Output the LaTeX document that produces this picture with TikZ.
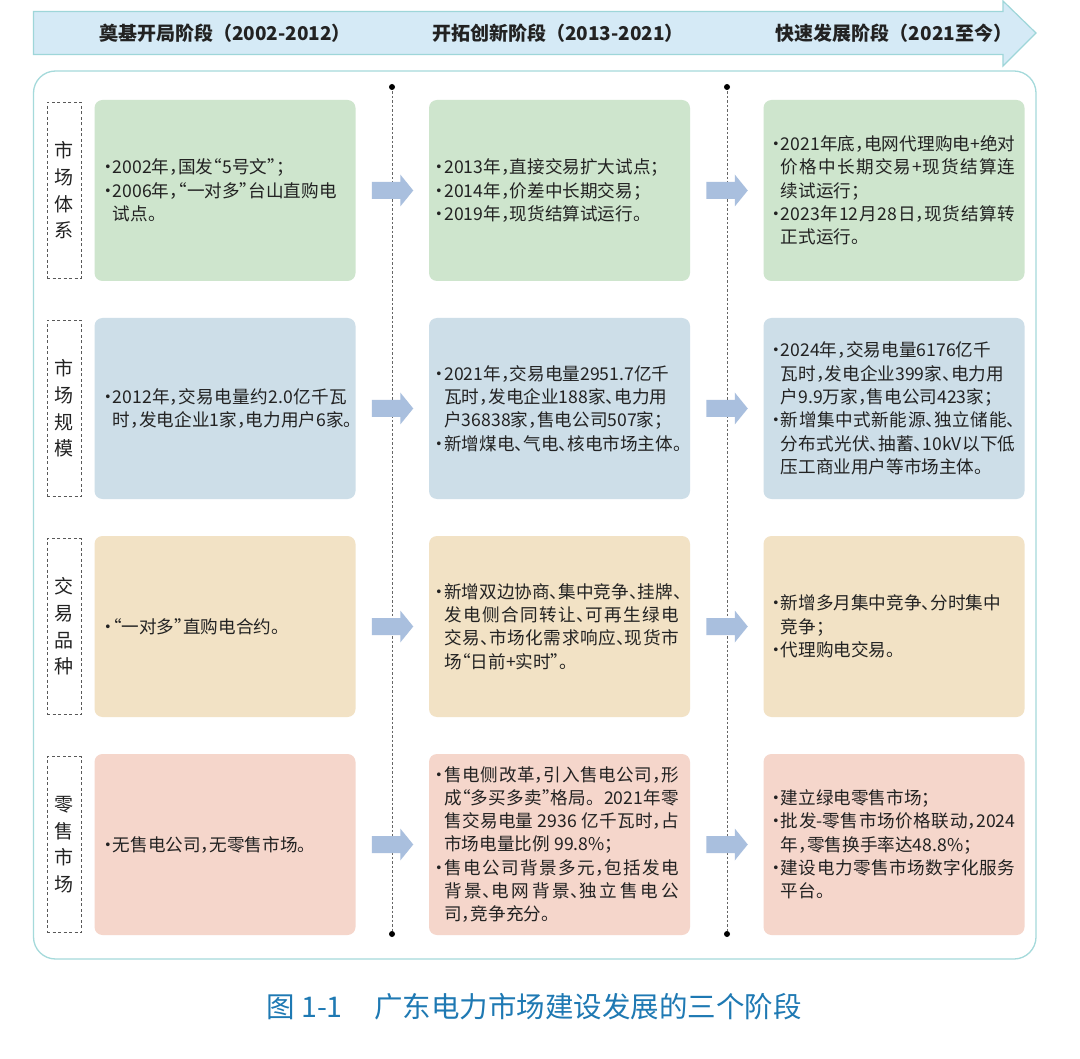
\documentclass[tikz,border=0pt]{standalone}
\usepackage{fontspec}
\setmainfont{Noto Sans CJK SC}
\usetikzlibrary{calc}
\XeTeXlinebreaklocale "zh"
\XeTeXlinebreakskip=0pt plus 4pt
\definecolor{bannerfill}{HTML}{D5EAF6}
\definecolor{bannerline}{HTML}{9ED6D9}
\definecolor{frameline}{HTML}{A5DADB}
\definecolor{cgreen}{HTML}{CEE5CD}
\definecolor{cblue}{HTML}{CDDEE8}
\definecolor{ctan}{HTML}{F2E2C5}
\definecolor{cpink}{HTML}{F5D6CB}
\definecolor{arrowc}{HTML}{A9BFDE}
\definecolor{capblue}{HTML}{1E79B3}
\definecolor{txtc}{HTML}{222222}
\newlength\cw \setlength\cw{242pt}
\newcommand\Jline[1]{\hbox{\parbox[t]{\cw}{\tolerance=10000\parfillskip=0pt\relax #1\par}}}
\newcommand\Lline[1]{\hbox{#1}}
\newcommand\bu{\makebox[.42em][l]{\hspace{-.36em}·}}
\newcommand\bi{\hspace*{.42em}}
\newcommand\cma{\makebox[.5em][l]{，}}
\newcommand\smc{\makebox[.5em][l]{；}}
\newcommand\dun{\makebox[.5em][l]{、}}
\newcommand\oq{\makebox[.5em][r]{“}}
\newcommand\cq{\makebox[.5em][l]{”}}
\newcommand\fsp{\hspace*{.25em}}
\tikzset{barrow/.pic={\fill[arrowc] (-20.5,-8.5) -- (8,-8.5) -- (8,-16) -- (21,0) -- (8,16) -- (8,8.5) -- (-20.5,8.5) -- cycle;}}
\begin{document}
\begin{tikzpicture}[x=1pt,y=-1pt,
  body/.style={font=\fontsize{17.6}{23.3}\selectfont, text=txtc, inner sep=0pt, anchor=west},
  cell/.style={rounded corners=8pt, minimum width=261pt, minimum height=181pt, inner sep=0pt},
  rowlab/.style={draw=black!65, dash pattern=on 3pt off 2.5pt, line width=0.9pt, minimum width=34pt, minimum height=176pt, inner sep=0pt, align=center, font=\fontsize{19}{26.7}\selectfont, text=txtc},
  head/.style={font=\fontsize{19}{22}\selectfont\bfseries, text=txtc},
  guide/.style={black!60, line width=1pt, dash pattern=on 2.5pt off 2pt},
]
\useasboundingbox (0,0) rectangle (1080,1059);
\fill[white] (0,0) rectangle (1080,1059);

% banner arrow
\draw[fill=bannerfill, draw=bannerline, line width=1.2pt] (33.5,11.5) -- (1003,11.5) -- (1003,1) -- (1036,33) -- (1003,66) -- (1003,54.5) -- (33.5,54.5) -- cycle;
\node[head] (h1) at (225,33) {奠基开局阶段（2002-2012）};
\node[head] (h2) at (558,33) {开拓创新阶段（2013-2021）};
\node[head] (h3) at (894,33) {快速发展阶段（2021至今）};

% frame
\draw[frameline, line width=1.3pt, rounded corners=22pt] (33.5,71) rectangle (1036,959);

% guide lines
\coordinate (g1t) at (392,87);
\coordinate (g1b) at (392,934);
\coordinate (g2t) at (727,87);
\coordinate (g2b) at (727,934);
\draw[guide] (g1t) -- (g1b);
\draw[guide] (g2t) -- (g2b);
\fill (g1t) circle (3pt);
\fill (g1b) circle (3pt);
\fill (g2t) circle (3pt);
\fill (g2b) circle (3pt);

% row labels
\node[rowlab] (l1) at (64,190.5) {市\\场\\体\\系};
\node[rowlab] (l2) at (64,408.5) {市\\场\\规\\模};
\node[rowlab] (l3) at (64,626.5) {交\\易\\品\\种};
\node[rowlab] (l4) at (64,844.5) {零\\售\\市\\场};

% cells
\node[cell, fill=cgreen] (b11) at (225,190.5) {};
\node[cell, fill=cgreen] (b12) at (559.5,190.5) {};
\node[cell, fill=cgreen] (b13) at (894,190.5) {};
\node[cell, fill=cblue] (b21) at (225,408.5) {};
\node[cell, fill=cblue] (b22) at (559.5,408.5) {};
\node[cell, fill=cblue] (b23) at (894,408.5) {};
\node[cell, fill=ctan] (b31) at (225,626.5) {};
\node[cell, fill=ctan] (b32) at (559.5,626.5) {};
\node[cell, fill=ctan] (b33) at (894,626.5) {};
\node[cell, fill=cpink] (b41) at (225,844.5) {};
\node[cell, fill=cpink] (b42) at (559.5,844.5) {};
\node[cell, fill=cpink] (b43) at (894,844.5) {};

% arrows
\foreach \r in {1,2,3,4}{
  \pic at ($(b\r1.east)!0.5!(b\r2.west)$) {barrow};
  \pic at ($(b\r2.east)!0.5!(b\r3.west)$) {barrow};
}

% texts row 1
\node[body] (t11) at ([xshift=11pt]b11.west) {\vbox{%
\Lline{\bu 2002年\cma 国发\oq 5号文\cq\smc}
\Lline{\bu 2006年\cma \oq 一对多\cq 台山直购电}
\Lline{\bi 试点。}}};
\node[body] (t12) at ([xshift=8pt]b12.west) {\vbox{%
\Lline{\bu 2013年\cma 直接交易扩大试点\smc}
\Lline{\bu 2014年\cma 价差中长期交易\smc}
\Lline{\bu 2019年\cma 现货结算试运行。}}};
\node[body] (t13) at ([xshift=10pt]b13.west) {\vbox{%
\Jline{\bu 2021年底\cma 电网代理购电+绝对}
\Jline{\bi 价格中长期交易+现货结算连}
\Lline{\bi 续试运行\smc}
\Jline{\bu 2023年12月28日\cma 现货结算转}
\Lline{\bi 正式运行。}}};

% texts row 2
\node[body] (t21) at ([xshift=11pt]b21.west) {\vbox{%
\Jline{\bu 2012年\cma 交易电量约2.0亿千瓦}
\Lline{\bi 时\cma 发电企业1家\cma 电力用户6家。}}};
\node[body] (t22) at ([xshift=8pt]b22.west) {\vbox{%
\Lline{\bu 2021年\cma 交易电量2951.7亿千}
\Lline{\bi 瓦时\cma 发电企业188家\dun 电力用}
\Lline{\bi 户36838家\cma 售电公司507家\smc}
\Lline{\bu 新增煤电\dun 气电\dun 核电市场主体。}}};
\node[body] (t23) at ([xshift=10pt]b23.west) {\vbox{%
\Lline{\bu 2024年\cma 交易电量6176亿千}
\Lline{\bi 瓦时\cma 发电企业399家\dun 电力用}
\Lline{\bi 户9.9万家\cma 售电公司423家\smc}
\Jline{\bu 新增集中式新能源\dun 独立储能\dun}
\Jline{\bi 分布式光伏\dun 抽蓄\dun 10kV以下低}
\Lline{\bi 压工商业用户等市场主体。}}};

% texts row 3
\node[body] (t31) at ([xshift=11pt]b31.west) {\vbox{%
\Lline{\bu \oq 一对多\cq 直购电合约。}}};
\node[body] (t32) at ([xshift=8pt]b32.west) {\vbox{%
\Lline{\bu 新增双边协商\dun 集中竞争\dun 挂牌\dun}
\Jline{\bi 发电侧合同转让\dun 可再生绿电}
\Jline{\bi 交易\dun 市场化需求响应\dun 现货市}
\Lline{\bi 场\oq 日前+实时\cq 。}}};
\node[body] (t33) at ([xshift=10pt]b33.west) {\vbox{%
\Lline{\bu 新增多月集中竞争\dun 分时集中}
\Lline{\bi 竞争\smc}
\Lline{\bu 代理购电交易。}}};

% texts row 4
\node[body] (t41) at ([xshift=11pt]b41.west) {\vbox{%
\Lline{\bu 无售电公司\cma 无零售市场。}}};
\node[body] (t42) at ([xshift=8pt]b42.west) {\vbox{%
\Jline{\bu 售电侧改革\cma 引入售电公司\cma 形}
\Jline{\bi 成\oq 多买多卖\cq 格局。2021年零}
\Jline{\bi 售交易电量\fsp 2936\fsp 亿千瓦时\cma 占}
\Lline{\bi 市场电量比例\fsp 99.8\%\smc}
\Jline{\bu 售电公司背景多元\cma 包括发电}
\Jline{\bi 背景\dun 电网背景\dun 独立售电公}
\Lline{\bi 司\cma 竞争充分。}}};
\node[body] (t43) at ([xshift=10pt]b43.west) {\vbox{%
\Lline{\bu 建立绿电零售市场\smc}
\Jline{\bu 批发-零售市场价格联动\cma 2024}
\Lline{\bi 年\cma 零售换手率达48.8\%\smc}
\Jline{\bu 建设电力零售市场数字化服务}
\Lline{\bi 平台。}}};

% caption
\node[font=\fontsize{28.5}{33}\selectfont, text=capblue] (cap) at (534,1007) {图 1-1\hspace{1.1em}广东电力市场建设发展的三个阶段};
\end{tikzpicture}
\end{document}
